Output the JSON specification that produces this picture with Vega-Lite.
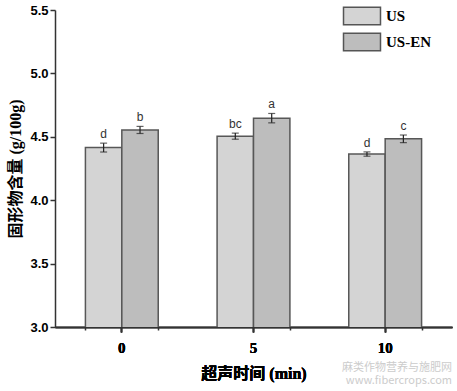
{
  "$schema": "https://vega.github.io/schema/vega-lite/v6.json",
  "width": 397,
  "height": 317,
  "autosize": {"type": "none"},
  "padding": {"left": 55, "top": 10, "right": 5, "bottom": 64},
  "background": "white",
  "title": {
    "text": ["麻类作物营养与施肥网", "www.fibercrops.com"],
    "orient": "bottom",
    "anchor": "end",
    "font": "Noto Sans CJK SC",
    "fontSize": 11,
    "fontWeight": "normal",
    "color": "#cccccc",
    "lineHeight": 13,
    "offset": -19
  },
  "data": {
    "values": [
      {"time": "0", "group": "US", "value": 4.415, "lo": 4.38, "hi": 4.45, "label": "d"},
      {"time": "0", "group": "US-EN", "value": 4.554, "lo": 4.526, "hi": 4.582, "label": "b"},
      {"time": "5", "group": "US", "value": 4.505, "lo": 4.481, "hi": 4.529, "label": "bc"},
      {"time": "5", "group": "US-EN", "value": 4.647, "lo": 4.61, "hi": 4.684, "label": "a"},
      {"time": "10", "group": "US", "value": 4.364, "lo": 4.347, "hi": 4.381, "label": "d"},
      {"time": "10", "group": "US-EN", "value": 4.484, "lo": 4.454, "hi": 4.514, "label": "c"}
    ]
  },
  "config": {
    "view": {"stroke": null},
    "axis": {
      "grid": false,
      "domainColor": "#333333",
      "domainWidth": 1.5,
      "tickColor": "#333333",
      "tickWidth": 1.5,
      "labelColor": "#000000",
      "titleColor": "#000000"
    }
  },
  "encoding": {
    "x": {
      "field": "time",
      "type": "ordinal",
      "sort": ["0", "5", "10"],
      "scale": {"paddingInner": 0.447, "paddingOuter": 0.231},
      "axis": {
        "orient": "bottom",
        "title": "超声时间 (min)",
        "titleFont": "Liberation Serif, Noto Sans CJK SC",
        "titleFontWeight": "bold",
        "titleFontSize": 16,
        "titlePadding": 10,
        "labelFont": "Liberation Serif",
        "labelFontWeight": "bold",
        "labelFontSize": 15,
        "labelAngle": 0,
        "labelPadding": 8,
        "tickSize": 5
      }
    },
    "xOffset": {
      "field": "group",
      "sort": ["US", "US-EN"],
      "scale": {"paddingInner": 0, "paddingOuter": 0}
    }
  },
  "layer": [
    {
      "mark": {"type": "bar", "stroke": "#575757", "strokeWidth": 1.5, "clip": true},
      "encoding": {
        "y": {
          "field": "value",
          "type": "quantitative",
          "scale": {"domain": [3, 5.5], "zero": false, "nice": false},
          "axis": {
            "title": "固形物含量 (g/100g)",
            "titleFont": "Liberation Serif, Noto Sans CJK SC",
            "titleFontWeight": "bold",
            "titleFontSize": 16,
            "titlePadding": 6,
            "values": [3, 3.25, 3.5, 3.75, 4, 4.25, 4.5, 4.75, 5, 5.25, 5.5],
            "labelExpr": "datum.value % 0.5 == 0 ? format(datum.value, '.1f') : ''",
            "labelFont": "Liberation Sans",
            "labelFontWeight": "bold",
            "labelFontSize": 13,
            "labelPadding": 2,
            "tickSize": {"condition": {"test": "datum.value % 0.5 != 0", "value": 3}, "value": 5}
          }
        },
        "color": {
          "field": "group",
          "type": "nominal",
          "sort": ["US", "US-EN"],
          "scale": {"range": ["#d4d4d4", "#bdbdbd"]},
          "legend": {
            "title": null,
            "orient": "none",
            "legendX": 297,
            "legendY": -4,
            "padding": 0,
            "symbolType": "M-2,-0.95L2,-0.95L2,0.95L-2,0.95Z",
            "symbolSize": 342,
            "symbolStrokeColor": "#555555",
            "symbolStrokeWidth": 1.5,
            "symbolOpacity": 1,
            "rowPadding": 2,
            "labelOffset": 14,
            "labelFont": "Liberation Serif",
            "labelFontWeight": "bold",
            "labelFontSize": 15,
            "labelColor": "#000000"
          }
        }
      }
    },
    {
      "mark": {"type": "rule", "color": "#222222", "strokeWidth": 1.2},
      "encoding": {
        "y": {"field": "lo", "type": "quantitative"},
        "y2": {"field": "hi"}
      }
    },
    {
      "mark": {"type": "tick", "color": "#222222", "size": 7, "thickness": 1.2},
      "encoding": {"y": {"field": "lo", "type": "quantitative"}}
    },
    {
      "mark": {"type": "tick", "color": "#222222", "size": 7, "thickness": 1.2},
      "encoding": {"y": {"field": "hi", "type": "quantitative"}}
    },
    {
      "mark": {"type": "text", "baseline": "bottom", "dy": -2, "font": "Liberation Sans", "fontSize": 12, "color": "#333333"},
      "encoding": {
        "x": {
          "field": "time",
          "type": "ordinal",
          "sort": ["0", "5", "10"],
          "axis": {
            "orient": "bottom",
            "tickBand": "extent",
            "labels": false,
            "domain": false,
            "title": null,
            "tickSize": 3
          }
        },
        "y": {"field": "hi", "type": "quantitative"},
        "text": {"field": "label"}
      }
    }
  ],
  "resolve": {"axis": {"x": "independent"}}
}
